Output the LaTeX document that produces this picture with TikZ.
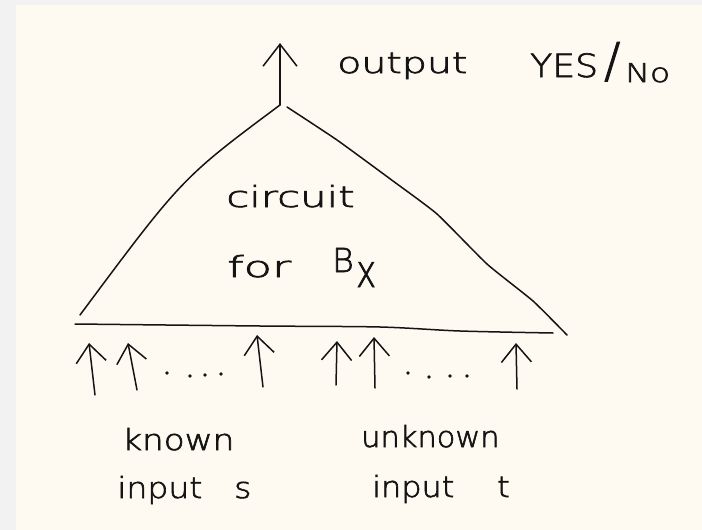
\documentclass[tikz,border=0pt]{standalone}
\usepackage{fontspec}
\newfontfamily\hand{DejaVu Sans ExtraLight}[FakeBold=2]
\usetikzlibrary{arrows.meta}
\definecolor{outerbg}{HTML}{F2F2F2}
\definecolor{paper}{HTML}{FEFAF2}
\definecolor{ink}{HTML}{141414}
\begin{document}
\begin{tikzpicture}[x=1pt,y=-1pt,
  inkline/.style={draw=ink, line width=1.5pt, line cap=round, line join=round},
  inarrow/.style={inkline, -{Straight Barb[length=18pt,width=30pt]}},
  outarrow/.style={inkline, -{Straight Barb[length=22pt,width=34pt]}},
  handtext/.style={font=\hand\fontsize{29}{34}\selectfont, text=ink, inner sep=0pt, anchor=base west},
  dotmark/.style={fill=ink, circle, inner sep=0pt, minimum size=3.6pt}]
% background
\fill[outerbg] (0,0) rectangle (702,530);
\fill[paper] (16,5) rectangle (702,530);
\useasboundingbox (0,0) rectangle (702,530);

% triangle
\coordinate (apex) at (280,105);
\coordinate (apexR) at (287,107);
\coordinate (botL) at (80,315);
\coordinate (botR) at (567,335);
\coordinate (baseL) at (75,324);
\coordinate (baseR) at (553,333);
\draw[inkline] (apex) .. controls (182,178) .. (botL);
\draw[inkline] plot[smooth, tension=0.3] coordinates {(apexR) (337,140) (393,181) (437,214) (487,264) (533,301) (botR)};
\draw[inkline] plot[smooth, tension=0.5] coordinates {(baseL) (260,326) (380,327) (460,331) (baseR)};

% output arrow
\coordinate (outtip) at (280,43);
\draw[outarrow] (apex) -- (outtip);

% input arrows
\foreach \n/\bx/\by/\tx/\ty in {1/95/395/89/343, 2/137/390/128/343, 3/263/387/257/335, 4/336/385/337/341, 5/375/388/374/337, 6/517/389/516/343}{
  \coordinate (inb\n) at (\bx,\by);
  \coordinate (int\n) at (\tx,\ty);
  \draw[inarrow] (inb\n) -- (int\n);
}

% dots
\foreach \n/\dx/\dy in {1/167/373, 2/190/376, 3/205/375, 4/221/374, 5/408/373, 6/429/377, 7/450/376, 8/467/376}{
  \node[dotmark] (dot\n) at (\dx,\dy) {};
}

% texts
\node[handtext, xscale=1.36] (output) at (337,73) {output};
\node[handtext, font=\hand\fontsize{32}{36}\selectfont, xscale=1.13] (yes) at (530,77) {YES};
\node[handtext, font=\hand\fontsize{48}{52}\selectfont] (slash) at (604,77) {/};
\node[handtext, font=\hand\fontsize{26}{30}\selectfont, xscale=1.27] (no) at (625,82) {No};
\node[handtext, xscale=1.44] (circuit) at (226,207) {circuit};
\node[handtext, xscale=1.6] (for) at (227,277) {for};
\node[handtext, font=\hand\fontsize{33}{37}\selectfont] (B) at (332,272) {B};
\node[handtext, font=\hand\fontsize{45}{49}\selectfont, xscale=0.75] (sub) at (356,287) {x};
\node[handtext, xscale=1.18] (known) at (122,450) {known};
\node[handtext, xscale=1.14] (inputs) at (117,498) {input\hspace{28pt}s};
\node[handtext, xscale=1.05] (unknown) at (361,447) {unknown};
\node[handtext, xscale=1.1] (inputt) at (372,497) {input\hspace{39pt}t};
\end{tikzpicture}
\end{document}
